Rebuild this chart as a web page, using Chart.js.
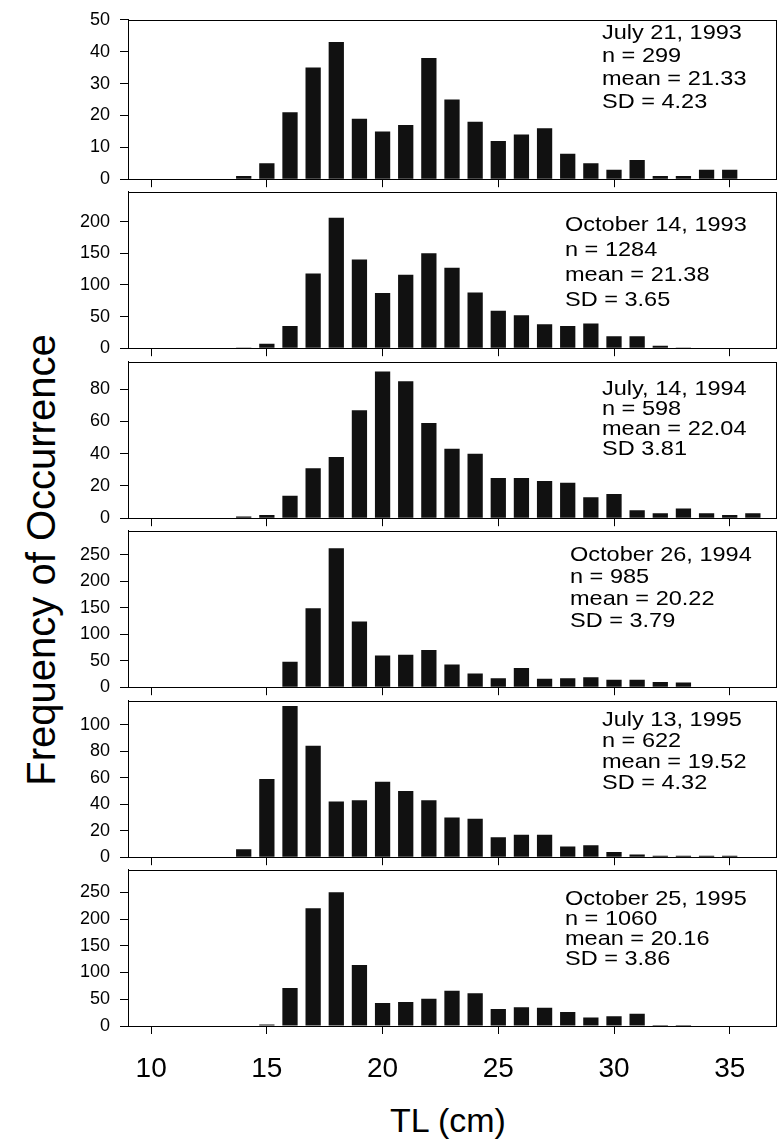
<!DOCTYPE html>
<html>
<head>
<meta charset="utf-8">
<script src="https://cdn.jsdelivr.net/npm/chart.js@4.4.1/dist/chart.umd.min.js"></script>
<style>
  body { margin: 0; background: #fff; }
  #fig { position: relative; width: 779px; height: 1140px; overflow: hidden; font-family: 'Liberation Sans', Arial, sans-serif; color: #000; }
  #fig canvas { position: absolute; left: 0; }
  .note { position: absolute; font-size: 21px; white-space: nowrap; transform: scaleX(1.12); transform-origin: 0 0; }
  #ytitle { position: absolute; left: 41px; top: 560px; font-size: 40px; white-space: nowrap; transform: translate(-50%, -50%) rotate(-90deg); }
  #xtitle { position: absolute; left: 448px; top: 1120px; font-size: 34px; white-space: nowrap; transform: translate(-50%, -50%); }
</style>
</head>
<body>
<div id="fig">
  <div id="ytitle">Frequency of Occurrence</div>
  <div id="xtitle">TL (cm)</div>
</div>
<script>
// total length bins (cm)
const lengthCm = [13, 14, 15, 16, 17, 18, 19, 20, 21, 22, 23, 24, 25, 26, 27, 28, 29, 30, 31, 32, 33, 34, 35, 36];

// counts per bin, one array per sampling date
const jul1993 = [0, 1, 5, 21, 35, 43, 19, 15, 17, 38, 25, 18, 12, 14, 16, 8, 5, 3, 6, 1, 1, 3, 3, 0];
const oct1993 = [0, 1, 7, 35, 118, 206, 140, 87, 116, 150, 127, 88, 59, 52, 38, 35, 39, 19, 19, 4, 1, 0, 0, 0];
const jul1994 = [0, 1, 2, 14, 31, 38, 67, 91, 85, 59, 43, 40, 25, 25, 23, 22, 13, 15, 5, 3, 6, 3, 2, 3];
const oct1994 = [0, 0, 1, 48, 149, 262, 124, 60, 61, 70, 43, 26, 17, 36, 16, 17, 19, 14, 14, 10, 9, 1, 0, 0];
const jul1995 = [0, 6, 59, 114, 84, 42, 43, 57, 50, 43, 30, 29, 15, 17, 17, 8, 9, 4, 2, 1, 1, 1, 1, 0];
const oct1995 = [0, 0, 3, 71, 220, 250, 114, 43, 45, 51, 66, 61, 32, 35, 34, 26, 16, 18, 23, 2, 2, 0, 0, 0];

// text in the top right corner of each panel
const notes = [
  ['July 21, 1993', 'n = 299', 'mean = 21.33', 'SD = 4.23'],
  ['October 14, 1993', 'n = 1284', 'mean = 21.38', 'SD = 3.65'],
  ['July, 14, 1994', 'n = 598', 'mean = 22.04', 'SD 3.81'],
  ['October 26, 1994', 'n = 985', 'mean = 20.22', 'SD = 3.79'],
  ['July 13, 1995', 'n = 622', 'mean = 19.52', 'SD = 4.32'],
  ['October 25, 1995', 'n = 1060', 'mean = 20.16', 'SD = 3.86']
];

const series = [jul1993, oct1993, jul1994, oct1994, jul1995, oct1995];
const yMax = [50, 247, 97, 295, 118, 292];
const yStep = [10, 50, 20, 50, 20, 50];
const xTicks = [10, 15, 20, 25, 30, 35];

// layout: plot box top / zero line for each panel, note placement
const boxTop = [20, 192, 362, 531, 701, 870];
const boxBottom = [179, 348, 518, 687, 857, 1026];
const noteLeft = [602, 565, 602, 570, 602, 565];
const noteTop = [20, 211, 378, 543, 708, 888];
const noteLine = [23, 25, 20, 22, 21, 20];

const padTop = 12;
const font = "'Liberation Sans', Arial, sans-serif";

const framePlugin = {
  id: 'frame',
  afterDraw(chart) {
    const { ctx, chartArea: a } = chart;
    ctx.save();
    ctx.strokeStyle = '#000';
    ctx.lineWidth = 1;
    ctx.strokeRect(Math.round(a.left) + 0.5, Math.round(a.top) + 0.5, Math.round(a.width), Math.round(a.height));
    ctx.restore();
  }
};

const makeChart = (canvas, counts, i, last, bottomExtra) => new Chart(canvas, {
  type: 'bar',
  data: {
    datasets: [{
      data: lengthCm.map((x, k) => ({ x, y: counts[k] })),
      backgroundColor: '#111',
      borderWidth: 0,
      barPercentage: 0.66,
      categoryPercentage: 1
    }]
  },
  options: {
    responsive: false,
    maintainAspectRatio: false,
    animation: false,
    devicePixelRatio: 1,
    layout: { padding: { top: padTop, right: 3, left: 0, bottom: 0 } },
    plugins: { legend: { display: false }, tooltip: { enabled: false } },
    scales: {
      x: {
        type: 'linear',
        min: 9,
        max: 37,
        offset: false,
        afterBuildTicks: scale => {
          scale.ticks = xTicks.map(value => ({ value }));
        },
        afterFit: scale => { scale.height = bottomExtra; },
        grid: { drawOnChartArea: false, offset: false, color: '#000', tickLength: 8, tickWidth: 1 },
        border: { color: '#000', width: 1 },
        ticks: { display: last, color: '#000', padding: 18, maxRotation: 0, font: { family: font, size: 28 } }
      },
      y: {
        min: 0,
        max: yMax[i],
        afterBuildTicks: scale => {
          scale.ticks = scale.ticks.filter(t => t.value % yStep[i] === 0);
        },
        afterFit: scale => { scale.width = 128; },
        grid: { drawOnChartArea: false, color: '#000', tickLength: 8, tickWidth: 1 },
        border: { color: '#000', width: 1 },
        ticks: { stepSize: yStep[i], color: '#000', padding: 10, font: { family: font, size: 18 } }
      }
    }
  },
  plugins: [framePlugin]
});

const fig = document.getElementById('fig');

series.forEach((counts, i) => {
  const last = i === series.length - 1;
  const bottomExtra = last ? 64 : 12;
  let height = boxBottom[i] - boxTop[i] + padTop + bottomExtra;

  const canvas = document.createElement('canvas');
  const place = (top, h) => {
    canvas.width = 779;
    canvas.height = h;
    canvas.style.top = top + 'px';
    canvas.style.width = '779px';
    canvas.style.height = h + 'px';
  };
  place(boxTop[i] - padTop, height);
  fig.appendChild(canvas);

  // first pass: see how much room the tick labels take, then rebuild so the plot box lands where wanted
  let chart = makeChart(canvas, counts, i, last, bottomExtra);
  const a = chart.chartArea;
  const dTop = Math.round(a.top - padTop);
  const dBottom = Math.round(height - bottomExtra - a.bottom);
  chart.destroy();
  place(boxTop[i] - padTop - dTop, height + dTop + dBottom);
  makeChart(canvas, counts, i, last, bottomExtra);

  const note = document.createElement('div');
  note.className = 'note';
  note.style.left = noteLeft[i] + 'px';
  note.style.top = noteTop[i] + 'px';
  note.style.lineHeight = noteLine[i] + 'px';
  note.innerHTML = notes[i].join('<br>');
  fig.appendChild(note);
});
</script>
</body>
</html>
